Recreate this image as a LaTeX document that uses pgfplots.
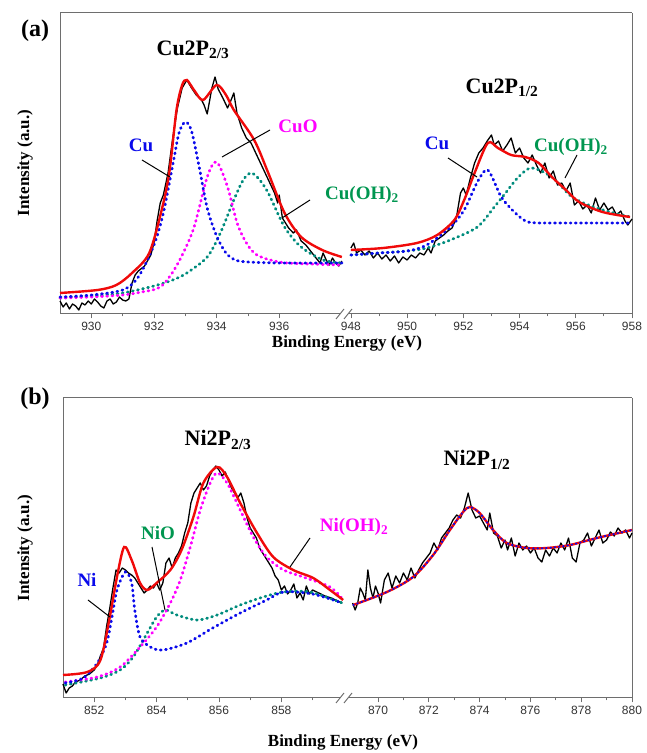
\documentclass[border=0pt]{standalone}
\usepackage{fontspec}
\setmainfont{Liberation Serif}
\newfontfamily\tickfont{Liberation Sans}
\usepackage{pgfplots}
\pgfplotsset{compat=1.18}
\definecolor{cblue}{RGB}{10,10,235}
\definecolor{cmag}{RGB}{255,0,255}
\definecolor{cteal}{RGB}{0,140,125}
\definecolor{cgreen}{RGB}{0,150,80}
\definecolor{cred}{RGB}{240,10,10}
\definecolor{axgray}{RGB}{110,110,110}
\tikzset{dotcurve/.style={line width=2.8pt, dash pattern=on 0.9pt off 4.3pt, line cap=round}}
\pgfplotsset{
  brk/.style={scale only axis, anchor=south west, ytick=\empty, tick align=outside,
    axis line style={axgray, line width=1pt},
    major tick length=4.5pt, minor tick length=2.5pt,
    every tick/.style={axgray, line width=0.8pt},
    tick label style={font=\tickfont\fontsize{12}{12}\selectfont, text=black!80},
    /pgf/number format/assume math mode=true,
    /pgf/number format/1000 sep={}, clip=false},
  brkL/.style={brk, axis x line*=bottom, axis y line*=left},
  brkR/.style={brk, axis x line*=bottom, axis y line*=right},
}
\tikzset{raw/.style={black, line width=1.3pt, line join=round},
  fit/.style={cred, line width=2.4pt, smooth}}
\begin{document}
\begin{tikzpicture}[x=1pt,y=1pt]
\useasboundingbox (0,0) rectangle (647,753);
% ---------------- panel (a) left
\begin{axis}[brkL, at={(60pt,439pt)}, width=285pt, height=301pt,
  xmin=929, xmax=938.1, ymin=-1, ymax=300,
  xtick={930,932,934,936}, minor xtick={931,933,935,937}]
\draw[axgray, line width=1pt] (rel axis cs:0,1) -- (rel axis cs:1,1);
\addplot[raw] coordinates {
(929.0,12)(929.1,6)(929.2,10)(929.3,4)(929.4,9)(929.5,7)(929.6,3)(929.7,10)(929.8,8)(929.9,12)
(930.0,9)(930.1,14)(930.2,11)(930.3,7)(930.4,5)(930.5,12)(930.6,14)(930.7,9)(930.8,11)(930.9,16)
(931.0,13)(931.1,12)(931.2,14)(931.3,30)(931.4,38)(931.5,42)(931.7,47)(931.9,58)(932.0,70)(932.1,92)
(932.2,110)(932.3,118)(932.45,140)(932.6,175)(932.75,205)(932.9,225)(933.05,233)(933.2,225)(933.35,218)
(933.5,214)(933.6,208)(933.7,199)(933.85,225)(933.95,236)(934.05,224)(934.2,215)(934.35,205)(934.45,212)
(934.55,220)(934.65,200)(934.8,185)(934.95,175)(935.1,170)(935.25,160)(935.4,150)(935.55,140)(935.7,130)
(935.85,120)(935.95,110)(936.0,118)(936.1,95)(936.3,85)(936.45,80)(936.55,83)(936.7,72)(936.85,68)
(937.0,62)(937.15,56)(937.3,50)(937.4,60)(937.5,53)(937.6,48)(937.7,55)(937.8,50)(937.9,47)(938.0,52)};
\addplot[cteal, dotcurve, smooth] coordinates {
(929.0,15)(930.0,17)(931.0,20)(932.0,27)(932.6,33)(933.05,40)(933.7,56)(934.12,80)(934.55,113)(934.85,133)
(935.1,140)(935.35,134)(935.65,120)(936.17,86)(936.7,66)(937.4,53)(938.0,50)};
\addplot[cmag, dotcurve, smooth] coordinates {
(929.0,15)(930.0,16)(931.0,18)(931.6,21)(932.2,26)(932.7,46)(933.25,83)(933.7,136)(934.0,151)
(934.35,126)(934.7,86)(935.2,60)(936.0,51)(937.0,49)(938.0,48)};
\addplot[cblue, dotcurve, smooth] coordinates {
(929.0,16)(930.0,18)(931.0,23)(931.5,36)(932.0,68)(932.3,100)(932.6,148)(932.8,180)(933.0,191)
(933.2,182)(933.45,145)(933.7,105)(934.0,77)(934.3,60)(934.6,53)(935.0,51)(936.0,50)(937.0,50)(938.0,50)};
\addplot[fit] coordinates {
(929.0,20)(930.2,23)(930.8,28)(931.3,40)(931.85,60)(932.27,106)(932.5,143)(932.72,203)(932.9,228)
(933.05,233)(933.3,222)(933.57,213)(934.0,228)(934.3,218)(934.55,203)(935.2,173)(935.65,140)
(936.17,100)(936.7,76)(937.37,63)(938.0,56)};
\end{axis}
% ---------------- panel (a) right
\begin{axis}[brkR, at={(345pt,439pt)}, width=287pt, height=301pt,
  xmin=947.79, xmax=958, ymin=-1, ymax=300,
  xtick={948,950,952,954,956,958}, minor xtick={949,951,953,955,957}]
\draw[axgray, line width=1pt] (rel axis cs:0,1) -- (rel axis cs:1,1);
\addplot[raw] coordinates {
(948.0,65)(948.1,70)(948.2,60)(948.35,63)(948.5,58)(948.65,62)(948.8,55)(948.95,60)(949.1,54)(949.25,58)
(949.4,52)(949.55,57)(949.7,50)(949.85,56)(950.0,53)(950.15,58)(950.3,55)(950.45,60)(950.6,58)(950.75,65)
(950.85,60)(951.0,72)(951.15,75)(951.3,78)(951.45,82)(951.6,85)(951.75,95)(951.9,120)(952.0,125)(952.1,118)
(952.25,135)(952.4,150)(952.55,160)(952.7,165)(952.85,172)(953.0,178)(953.1,168)(953.25,172)(953.4,162)
(953.55,168)(953.7,175)(953.85,160)(954.0,165)(954.15,155)(954.3,150)(954.45,158)(954.6,148)(954.75,140)
(954.9,150)(955.05,135)(955.2,142)(955.35,128)(955.5,130)(955.65,122)(955.8,130)(955.95,108)(956.1,112)
(956.25,104)(956.4,108)(956.55,100)(956.7,115)(956.85,103)(957.0,110)(957.15,103)(957.3,106)(957.45,98)
(957.6,102)(957.75,92)(957.85,88)(958.0,94)};
\addplot[cteal, dotcurve, smooth] coordinates {
(948.0,58)(949.0,60)(950.0,62)(950.7,65)(951.54,73)(952.5,86)(953.1,106)(953.5,120)(953.96,136)
(954.43,145)(955.15,136)(955.87,116)(956.74,105)(957.93,96)};
\addplot[cblue, dotcurve, smooth] coordinates {
(948.0,58)(949.0,60)(950.0,62)(950.7,68)(951.54,86)(952.03,103)(952.5,131)(952.87,143)(953.35,116)
(953.85,100)(954.3,91)(955.0,90)(956.0,90)(957.0,90)(958.0,90)};
\addplot[fit] coordinates {
(948.0,63)(949.15,65)(950.35,70)(951.07,78)(951.68,93)(952.03,113)(952.4,140)(952.87,170)(953.23,165)
(953.7,158)(954.2,156)(954.68,150)(955.15,136)(955.65,123)(956.12,111)(956.95,101)(957.93,96)};
\end{axis}
% ---------------- panel (b) left
\begin{axis}[brkL, at={(63pt,55pt)}, width=282pt, height=300pt,
  xmin=851, xmax=860.04, ymin=0, ymax=300,
  xtick={852,854,856,858}, minor xtick={853,855,857,859}]
\draw[axgray, line width=1pt] (rel axis cs:0,1) -- (rel axis cs:1,1);
\addplot[raw] coordinates {
(851.0,14)(851.1,5)(851.2,10)(851.3,12)(851.4,16)(851.55,18)(851.7,22)(851.85,24)(852.0,28)(852.1,33)
(852.2,42)(852.3,50)(852.4,72)(852.5,90)(852.6,110)(852.7,128)(852.8,125)(852.9,130)(853.0,128)(853.1,125)
(853.2,123)(853.3,120)(853.4,115)(853.5,110)(853.6,105)(853.7,108)(853.8,112)(853.9,110)(854.0,115)
(854.1,108)(854.2,115)(854.3,135)(854.4,140)(854.5,130)(854.6,140)(854.7,145)(854.8,152)(854.9,165)
(855.0,175)(855.1,195)(855.2,205)(855.3,210)(855.4,215)(855.5,208)(855.6,212)(855.7,222)(855.8,228)
(855.9,232)(856.0,228)(856.1,222)(856.2,226)(856.3,218)(856.4,210)(856.5,205)(856.6,200)(856.7,205)
(856.8,195)(856.9,180)(857.0,170)(857.1,165)(857.2,160)(857.3,150)(857.4,145)(857.5,140)(857.6,135)
(857.7,130)(857.8,122)(857.9,118)(858.0,108)(858.1,112)(858.2,104)(858.3,108)(858.4,114)(858.5,100)
(858.6,105)(858.7,98)(858.8,112)(858.9,104)(859.0,108)(859.2,105)(859.4,102)(859.6,100)(859.8,97)(859.95,95)};
\addplot[cteal, dotcurve, smooth] coordinates {
(851.07,13)(852.2,20)(852.83,28)(853.25,41)(853.7,65)(854.0,81)(854.28,88)(854.65,83)(855.3,78)
(855.94,83)(856.68,93)(857.42,101)(858.07,106)(858.92,106)(859.95,95)};
\addplot[cmag, dotcurve, smooth] coordinates {
(851.07,16)(852.1,21)(852.83,31)(853.47,51)(854.0,71)(854.44,95)(854.76,118)(855.08,151)(855.4,188)
(855.72,215)(855.94,225)(856.26,215)(856.68,188)(857.1,161)(857.53,141)(858.07,128)(858.7,121)
(859.56,111)(859.98,98)};
\addplot[cblue, dotcurve, smooth] coordinates {
(851.07,15)(851.65,20)(852.1,35)(852.4,55)(852.57,81)(852.73,108)(853.0,126)(853.2,115)(853.3,88)
(853.47,61)(853.8,51)(854.2,48)(854.97,55)(855.8,70)(856.68,85)(857.53,98)(858.07,106)(859.0,104)(859.95,95)};
\addplot[fit] coordinates {
(851.0,23)(851.78,26)(852.2,38)(852.5,81)(852.73,121)(852.96,151)(853.2,138)(853.47,115)(853.7,108)
(854.0,115)(854.44,128)(854.8,148)(855.18,181)(855.5,215)(855.94,231)(856.26,221)(856.68,195)
(857.22,165)(857.74,141)(858.38,128)(859.02,120)(859.56,108)(859.98,98)};
\end{axis}
% ---------------- panel (b) right
\begin{axis}[brkR, at={(345pt,55pt)}, width=287pt, height=300pt,
  xmin=868.7, xmax=880, ymin=0, ymax=300,
  xtick={870,872,874,876,878,880}, minor xtick={871,873,875,877,879}]
\draw[axgray, line width=1pt] (rel axis cs:0,1) -- (rel axis cs:1,1);
\addplot[raw] coordinates {
(869.0,95)(869.1,88)(869.2,95)(869.3,110)(869.4,105)(869.5,98)(869.6,128)(869.7,110)(869.8,100)(869.9,112)
(870.0,105)(870.1,95)(870.25,118)(870.4,125)(870.55,110)(870.7,122)(870.85,115)(871.0,125)(871.15,118)
(871.3,130)(871.45,120)(871.6,128)(871.75,135)(871.9,140)(872.05,145)(872.2,155)(872.35,148)(872.5,160)
(872.65,165)(872.8,170)(872.95,178)(873.1,183)(873.25,180)(873.4,190)(873.55,205)(873.7,188)(873.85,180)
(874.0,182)(874.15,175)(874.3,168)(874.4,185)(874.55,165)(874.7,162)(874.85,150)(875.0,158)(875.1,148)
(875.25,160)(875.4,142)(875.55,155)(875.7,148)(875.85,152)(876.0,145)(876.15,150)(876.3,140)(876.45,136)
(876.6,148)(876.75,142)(876.9,150)(877.05,145)(877.2,155)(877.35,148)(877.5,160)(877.65,140)(877.8,136)
(877.95,155)(878.1,158)(878.25,165)(878.4,152)(878.55,160)(878.7,168)(878.85,155)(879.0,158)(879.15,166)
(879.3,162)(879.45,170)(879.6,165)(879.75,168)(879.9,160)(880.0,165)};
\addplot[fit] coordinates {
(869.02,93)(870.35,106)(871.38,121)(872.17,143)(872.83,168)(873.35,186)(873.62,191)(874.0,185)
(874.53,168)(875.07,155)(875.86,150)(876.65,150)(877.56,153)(878.62,160)(880.0,168)};
\addplot[cblue, line width=1.8pt, dash pattern=on 0.8pt off 3.5pt, line cap=round, smooth] coordinates {
(869.02,93)(870.35,106)(871.38,121)(872.17,143)(872.83,168)(873.35,186)(873.62,191)(874.0,185)
(874.53,168)(875.07,155)(875.86,150)(876.65,150)(877.56,153)(878.62,160)(880.0,168)};
\end{axis}
% ---------------- break marks
\foreach \yy in {439,55}{
  \fill[white] (340,\yy-2) rectangle (348,\yy+2);
  \draw[axgray, line width=1pt] (336,\yy-5) -- (344,\yy+5);
  \draw[axgray, line width=1pt] (344,\yy-5) -- (352,\yy+5);
}
% ---------------- texts panel (a)
\node[font=\bfseries\fontsize{24}{24}\selectfont] at (35,722) {(a)};
\node[font=\bfseries\fontsize{22}{22}\selectfont] at (193,703) {Cu2P\textsubscript{2/3}};
\node[font=\bfseries\fontsize{22}{22}\selectfont] at (502,665) {Cu2P\textsubscript{1/2}};
\node[font=\bfseries\fontsize{19}{19}\selectfont, text=cblue] at (141,608) {Cu};
\node[font=\bfseries\fontsize{19}{19}\selectfont, text=cmag] at (298,627) {CuO};
\node[font=\bfseries\fontsize{19}{19}\selectfont, text=cgreen] at (362,558) {Cu(OH)\textsubscript{2}};
\node[font=\bfseries\fontsize{19}{19}\selectfont, text=cblue] at (437,610) {Cu};
\node[font=\bfseries\fontsize{19}{19}\selectfont, text=cgreen] at (571,606) {Cu(OH)\textsubscript{2}};
\draw[line width=1pt] (142,593) -- (170,576);
\draw[line width=1pt] (270,623) -- (222,596);
\draw[line width=1pt] (310,553) -- (282,535);
\draw[line width=1pt] (448,595) -- (477,576);
\draw[line width=1pt] (577,598) -- (565,575);
\node[font=\bfseries\fontsize{17}{17}\selectfont] at (347,410) {Binding Energy (eV)};
\node[font=\bfseries\fontsize{17}{17}\selectfont, rotate=90] at (25,590) {Intensity (a.u.)};
% ---------------- texts panel (b)
\node[font=\bfseries\fontsize{24}{24}\selectfont] at (35,354) {(b)};
\node[font=\bfseries\fontsize{22}{22}\selectfont] at (218,313) {Ni2P\textsubscript{2/3}};
\node[font=\bfseries\fontsize{22}{22}\selectfont] at (477,293) {Ni2P\textsubscript{1/2}};
\node[font=\bfseries\fontsize{19}{19}\selectfont, text=cblue] at (87,173) {Ni};
\node[font=\bfseries\fontsize{19}{19}\selectfont, text=cgreen] at (158,220) {NiO};
\node[font=\bfseries\fontsize{19}{19}\selectfont, text=cmag] at (354,226) {Ni(OH)\textsubscript{2}};
\draw[line width=1pt] (88,153) -- (110,136);
\draw[line width=1pt] (152,206) -- (165,143);
\draw[line width=1pt] (310,215) -- (290,186);
\node[font=\bfseries\fontsize{17}{17}\selectfont] at (343,11) {Binding Energy (eV)};
\node[font=\bfseries\fontsize{17}{17}\selectfont, rotate=90] at (25,205) {Intensity (a.u.)};
\end{tikzpicture}
\end{document}
